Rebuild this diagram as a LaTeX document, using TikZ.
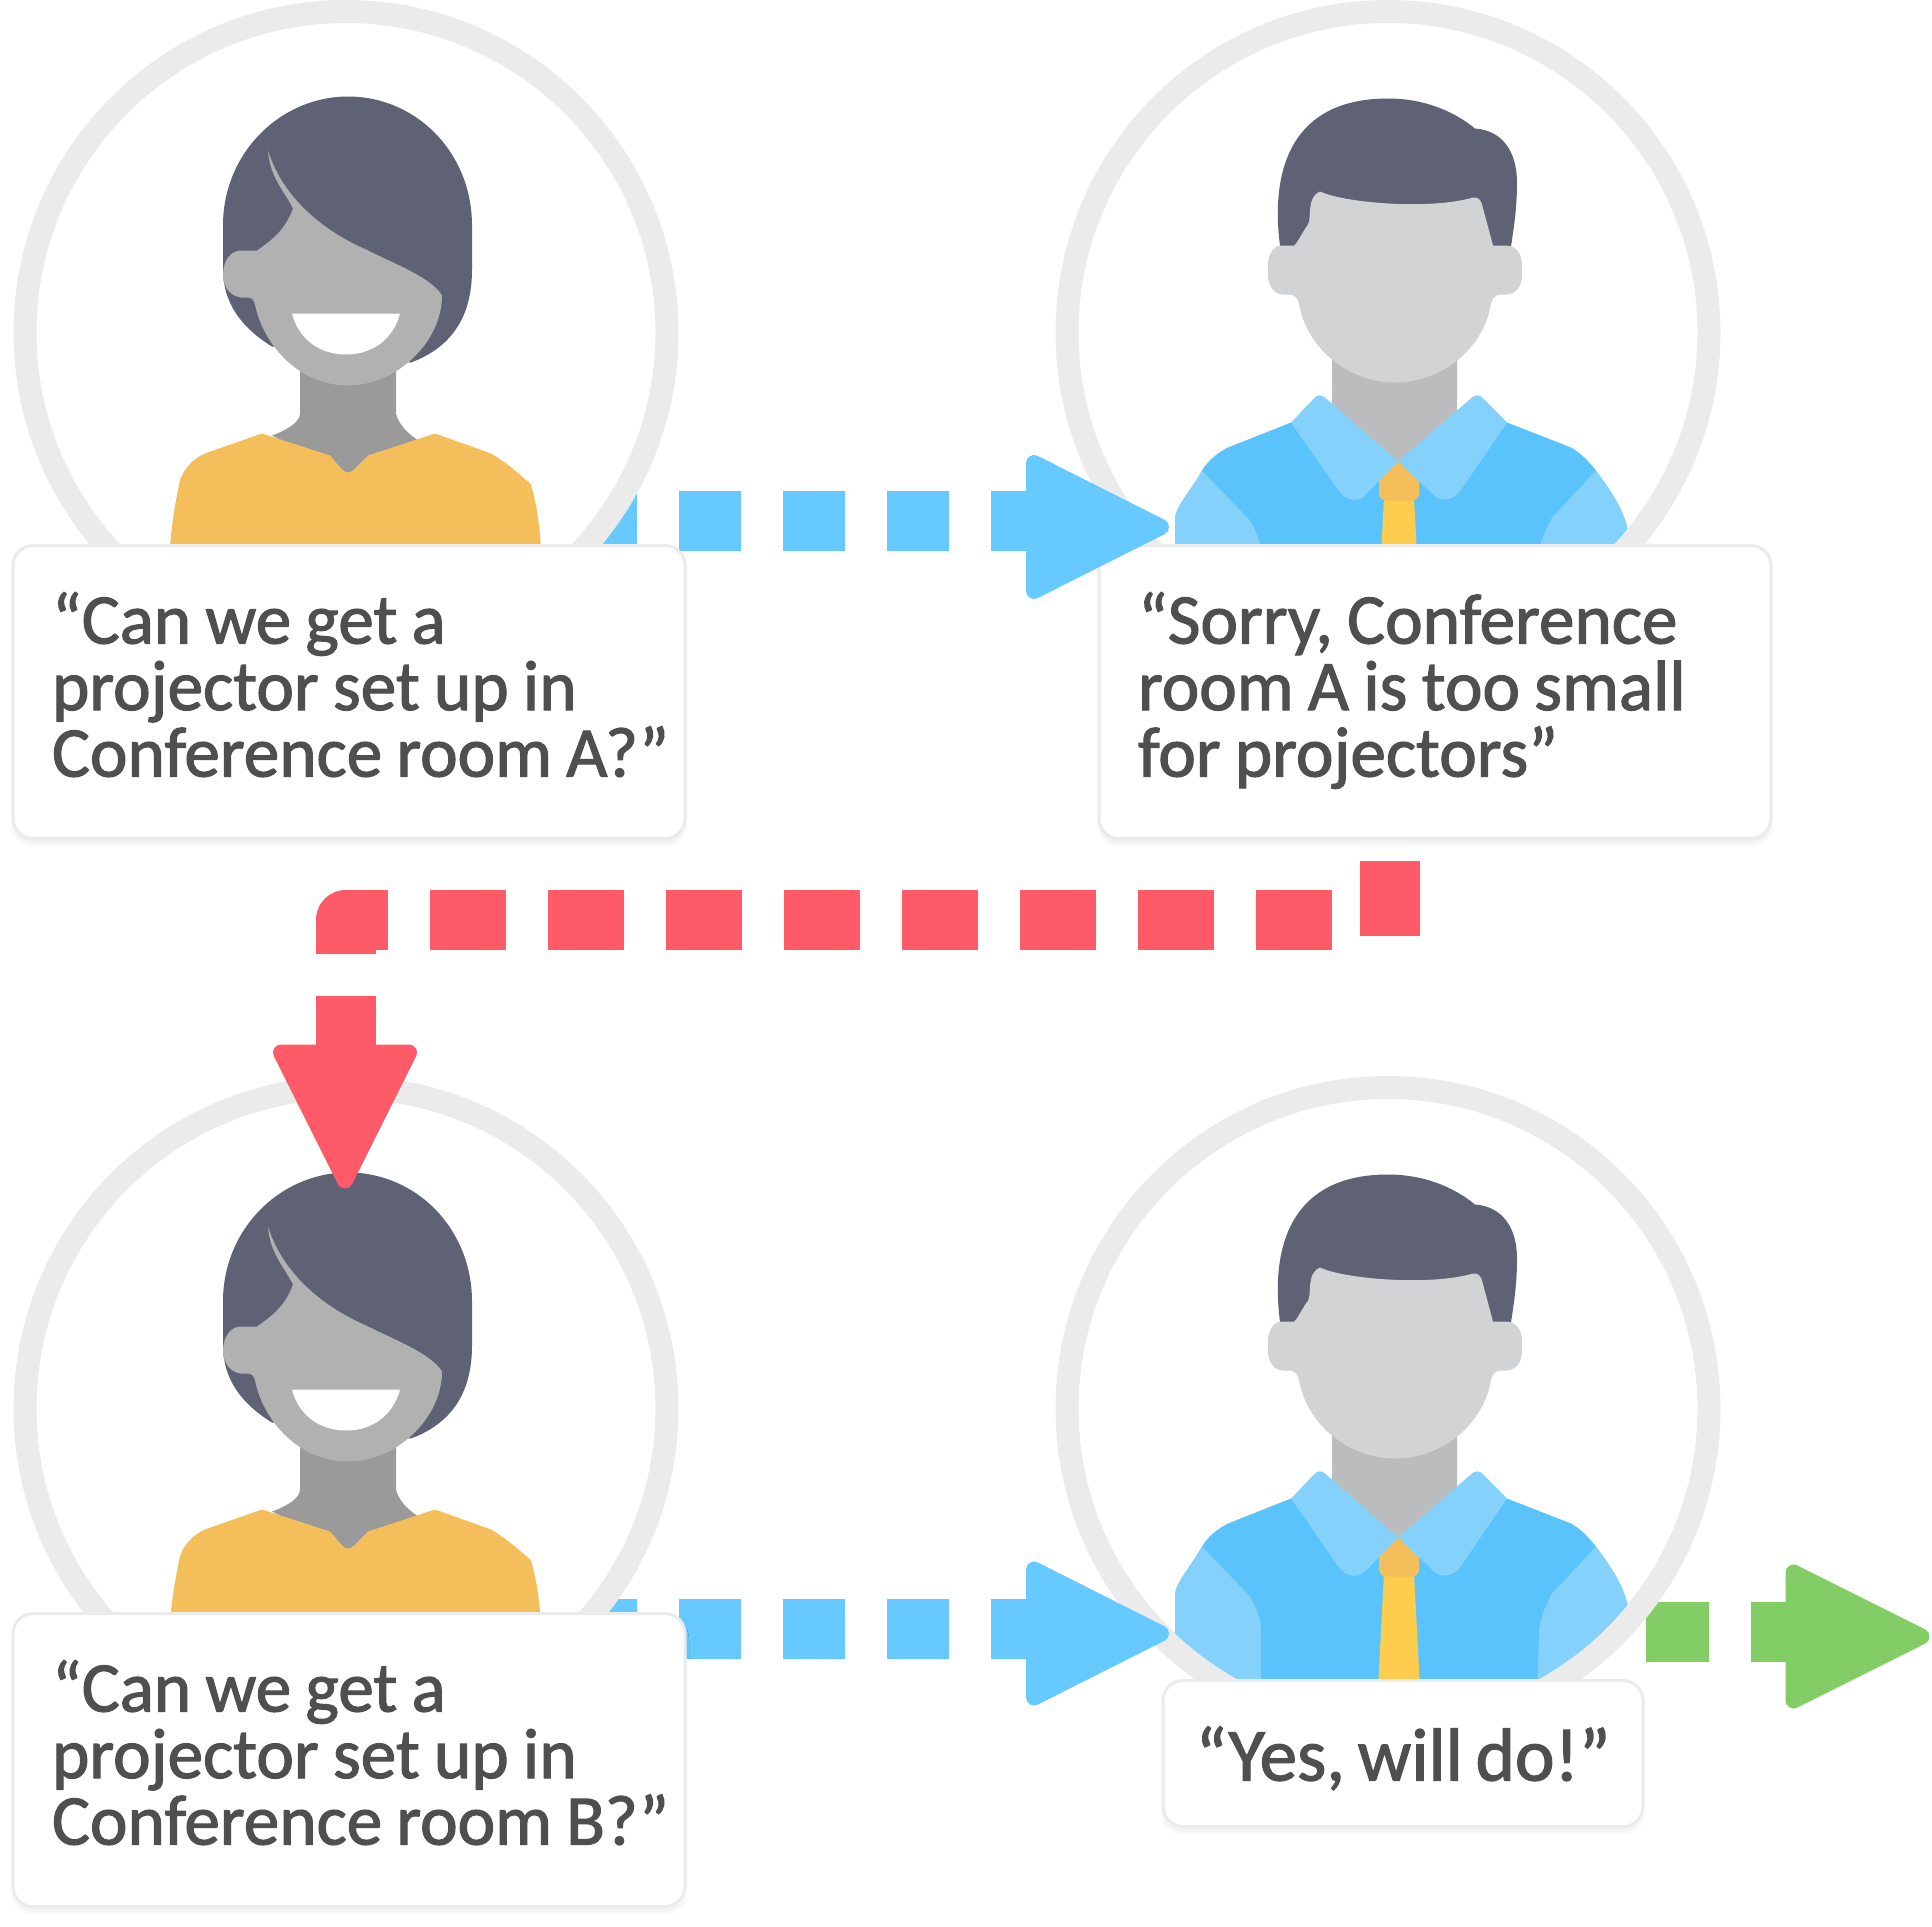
\documentclass[tikz,border=0pt]{standalone}
\usepackage{fontspec}
\setmainfont{Carlito}
\newfontfamily\cardfont[FakeBold=1.6,WordSpace=0.75]{Carlito}
\usepackage{xcolor}
\usetikzlibrary{shadows.blur}
\definecolor{ringcolor}{HTML}{EBEBEB}
\definecolor{hairdark}{HTML}{5F6275}
\definecolor{facewoman}{HTML}{B1B1B1}
\definecolor{neckwoman}{HTML}{9A9A9A}
\definecolor{faceman}{HTML}{D2D3D5}
\definecolor{neckman}{HTML}{BBBCBE}
\definecolor{shirtgold}{HTML}{F4BF5B}
\definecolor{tiegold}{HTML}{FFCD4E}
\definecolor{shirtblue}{HTML}{5BC3FB}
\definecolor{collarblue}{HTML}{84D1FC}
\definecolor{flowblue}{HTML}{66C9FF}
\definecolor{flowred}{HTML}{FF5A67}
\definecolor{flowgreen}{HTML}{82CD65}
\definecolor{cardtext}{HTML}{4F4F4F}
\begin{document}
\begin{tikzpicture}[
    x=0.5pt, y=-0.5pt,
    ring/.style={draw=ringcolor, line width=11.5pt, fill=white},
    card/.style={draw=ringcolor, line width=1.5pt, fill=white, rounded corners=10pt, inner sep=0pt, text=cardtext, align=left, blur shadow={shadow xshift=0pt, shadow yshift=-3pt, shadow blur radius=2pt, shadow opacity=6}},
    bigcard/.style={card, minimum width=336pt, minimum height=146.5pt, text width=336pt, font=\cardfont\fontsize{35.6}{33.25}\selectfont, execute at begin node={\leftskip=19.5pt\spaceskip=0.2em\xspaceskip=0.2em\rule{0pt}{28pt}}, execute at end node={\strut}},
    flow/.style={line width=30pt, dash pattern=on 31pt off 21pt},
    flowhead/.style={draw=#1, fill=#1, line width=8pt, line join=round},
    woman/.pic={
        \draw[ring] (0,0) circle[radius=321];
        \fill[hairdark] (-123,-107) .. controls (-123,-180) and (-65,-236) .. (2,-236) .. controls (70,-236) and (126,-180) .. (126,-107) -- (126,-63) .. controls (126,-15) and (105,15) .. (65,30) -- (-74,14) .. controls (-105,-5) and (-123,-30) .. (-123,-63) -- cycle;
        \fill[neckwoman] (-46,20) -- (50,20) -- (50,81) .. controls (52,90) and (60,100) .. (71,107) -- (10,145) -- (-74,103) .. controls (-60,98) and (-46,90) .. (-46,81) -- cycle;
        \fill[facewoman] (-105,-82) -- (-89,-82) .. controls (-70,-95) and (-60,-105) .. (-53,-124) .. controls (-62,-142) and (-76,-155) .. (-78,-182) .. controls (-65,-140) and (-30,-105) .. (20,-83) .. controls (50,-68) and (85,-55) .. (96,-37) .. controls (96,10) and (50,53) .. (2,53) .. controls (-45,53) and (-82,15) .. (-91,-28) .. controls (-92,-32) and (-94,-35) .. (-98,-35) .. controls (-115,-33) and (-123,-45) .. (-123,-58) .. controls (-123,-72) and (-115,-82) .. (-105,-82) -- cycle;
        \fill[white] (-54,-19) -- (54,-19) .. controls (48,5) and (28,22) .. (0,22) .. controls (-28,22) and (-48,5) .. (-54,-19) -- cycle;
        \fill[shirtgold] (-84,101) -- (-16,123) -- (-4,137) .. controls (0,141) and (4,141) .. (8,137) -- (22,123) -- (89,101) -- (145,121) .. controls (160,130) and (172,140) .. (185,152) .. controls (191,175) and (197,195) .. (197,300) -- (-179,300) .. controls (-179,200) and (-170,170) .. (-167,152) .. controls (-165,140) and (-155,127) .. (-141,121) -- cycle;
    },
    man/.pic={
        \draw[ring] (0,0) circle[radius=321];
        \fill[hairdark] (-107,-80) .. controls (-118,-150) and (-105,-234) .. (0,-234) .. controls (35,-234) and (65,-222) .. (87,-204) .. controls (115,-202) and (129,-180) .. (129,-150) .. controls (129,-125) and (126,-105) .. (122,-80) -- cycle;
        \fill[neckman] (-56,20) -- (69,20) -- (69,95) -- (10,132) -- (-56,95) -- cycle;
        \fill[faceman] (-107,-87) -- (-94,-87) .. controls (-90,-90) and (-86,-100) .. (-80,-108) .. controls (-76,-115) and (-82,-135) .. (-68,-141) .. controls (-45,-130) and (40,-122) .. (85,-135) .. controls (90,-136) and (93,-132) .. (94,-128) -- (105,-87) -- (118,-87) .. controls (128,-87) and (134,-78) .. (134,-68) -- (134,-57) .. controls (134,-47) and (128,-38) .. (118,-38) -- (112,-38) .. controls (107,-38) and (104,-33) .. (103,-29) .. controls (96,15) and (55,50) .. (7,50) .. controls (-40,50) and (-82,15) .. (-89,-29) .. controls (-90,-33) and (-93,-38) .. (-98,-38) -- (-105,-38) .. controls (-114,-38) and (-120,-47) .. (-120,-57) -- (-120,-68) .. controls (-120,-78) and (-114,-87) .. (-107,-87) -- cycle;
        \begin{scope}
            \clip (0,0) circle[radius=309.5];
            \fill[shirtblue] (-97,90) -- (-160,115) .. controls (-170,120) and (-180,128) .. (-186,138) .. controls (-195,155) and (-213,175) .. (-213,186) -- (-213,330) -- (245,330) -- (239,195) .. controls (235,175) and (220,155) .. (208,138) .. controls (200,128) and (192,120) .. (183,115) -- (119,90) -- (10,129) -- cycle;
            \fill[collarblue] (-186,138) .. controls (-195,155) and (-213,175) .. (-213,186) -- (-213,330) -- (-127,330) -- (-127,222) .. controls (-127,210) and (-132,198) .. (-139,187) -- cycle;
            \fill[collarblue] (208,138) .. controls (220,155) and (235,175) .. (239,195) -- (245,330) -- (148,330) -- (151,222) .. controls (152,210) and (157,198) .. (164,185) -- cycle;
        \end{scope}
        \fill[tiegold] (-4,165) -- (26,165) -- (33,300) -- (-11,300) -- cycle;
        \fill[shirtgold] (10,129) -- (31,148) -- (31,160) .. controls (31,165) and (28,168) .. (25,168) -- (-2,168) .. controls (-6,168) and (-9,165) .. (-9,160) -- (-9,148) -- cycle;
        \fill[collarblue] (10,129) -- (-24,164) .. controls (-30,169) and (-42,170) .. (-51,156) -- (-97,90) -- (-74,66) .. controls (-71,62) and (-66,62) .. (-63,65) -- cycle;
        \fill[collarblue] (10,129) -- (45,162) .. controls (50,169) and (66,170) .. (74,156) -- (119,90) -- (95,66) .. controls (92,62) and (87,62) .. (84,65) -- cycle;
    }
]

% -- FLOWS BEHIND THE CIRCLES --
\coordinate (askA) at (575,520.5);
\coordinate (askAend) at (1040,520.5);
\coordinate (askB) at (575,1628.5);
\coordinate (askBend) at (1040,1628.5);
\coordinate (doneA) at (1646,1631);
\coordinate (doneEnd) at (1798,1631);
\draw[flow, flowblue] (askA) -- (askAend);
\draw[flow, flowblue] (askB) -- (askBend);
\draw[flow, flowgreen, dash pattern=on 31.5pt off 21pt] (doneA) -- (doneEnd);

% -- PEOPLE --
\pic (womanA) at (346,332) {woman};
\pic (manA) at (1388,332) {man};
\pic (womanB) at (346,1408) {woman};
\pic (manB) at (1388,1408) {man};

% -- CARDS --
\node[bigcard] (cardA) at (349,691.5) {“Can we get a\\projector set up in\\Conference room A?”};
\node[bigcard] (cardB) at (1435,691.5) {“Sorry, Conference\\room A is too small\\for projectors”};
\node[bigcard] (cardC) at (349,1759.5) {“Can we get a\\projector set up in\\Conference room B?”};
\node[card, minimum width=240pt, minimum height=73pt, font=\cardfont\fontsize{37.5}{33.25}\selectfont, execute at begin node={\rule{0pt}{37pt}}, execute at end node={\strut}] (cardD) at (1403,1753) {“Yes, will do!”};

% -- REFUSAL LINE --
\coordinate (refuseTop) at (1390,860);
\coordinate (refuseStub) at (1390,935);
\coordinate (refuseA) at (1332,919);
\coordinate (refuseCorner) at (346,919);
\coordinate (refuseEnd) at (346,1060);
\draw[line width=30pt, flowred] (refuseTop) -- (refuseStub);
\draw[line width=30pt, flowred, line join=round, dash pattern=on 38pt off 21pt] (refuseA) -- (refuseCorner) -- (refuseEnd);

% -- ARROW HEADS --
\filldraw[flowhead=flowblue] (1034,462.5) -- (1161,526.5) -- (1034,590.5) -- cycle;
\filldraw[flowhead=flowblue] (1034,1569) -- (1161,1633) -- (1034,1697) -- cycle;
\filldraw[flowhead=flowgreen] (1793.5,1572) -- (1921.5,1636) -- (1793.5,1700) -- cycle;
\filldraw[flowhead=flowred] (281,1052) -- (345,1180) -- (409,1052) -- cycle;

\useasboundingbox (0,0) rectangle (1932,1926);
\end{tikzpicture}
\end{document}
